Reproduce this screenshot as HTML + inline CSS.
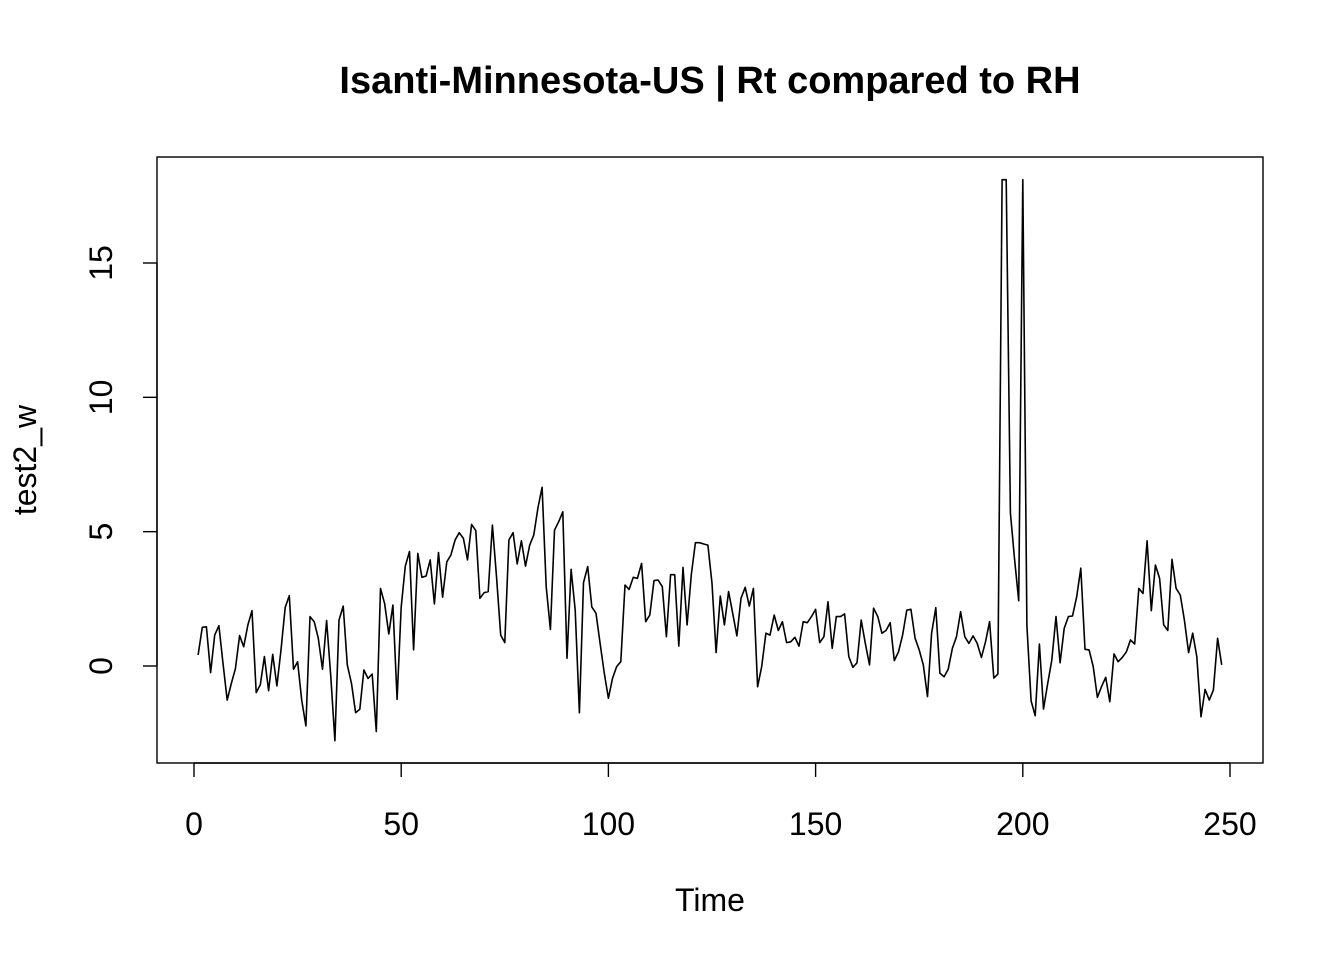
<!DOCTYPE html>
<html><head><meta charset="utf-8"><style>
html,body{margin:0;padding:0;background:#fff}
svg{display:block;font-family:"Liberation Sans",Arial,sans-serif}
</style></head><body>
<svg id="chart" width="1344" height="960" viewBox="0 0 1344 960">
<rect width="1344" height="960" fill="#fff"/>
<text x="710" y="93" text-anchor="middle" font-size="38" font-weight="bold">Isanti-Minnesota-US | Rt compared to RH</text>
<rect x="157" y="157" width="1106" height="606" fill="none" stroke="#000" stroke-width="1.4"/>
<text x="710" y="911" text-anchor="middle" font-size="32">Time</text>
<text transform="translate(36,460) rotate(-90)" text-anchor="middle" font-size="32">test2_w</text>
<g id="axes"></g>
<g id="series"></g>
</svg>
<script>
const values = [0.41,1.44,1.46,-0.25,1.15,1.5,0.1,-1.27,-0.65,-0.1,1.13,0.72,1.53,2.06,-0.99,-0.7,0.35,-0.92,0.43,-0.74,0.6,2.18,2.62,-0.12,0.16,-1.27,-2.23,1.84,1.65,1.03,-0.12,1.69,-0.4,-2.78,1.71,2.23,0.04,-0.65,-1.74,-1.61,-0.15,-0.46,-0.3,-2.44,2.89,2.33,1.19,2.27,-1.24,2.2,3.72,4.26,0.6,4.19,3.3,3.35,3.95,2.31,4.22,2.56,3.88,4.13,4.69,4.96,4.75,3.95,5.27,5.04,2.52,2.73,2.77,5.25,3.33,1.15,0.87,4.69,4.96,3.8,4.66,3.72,4.5,4.88,5.9,6.65,2.95,1.36,5.06,5.37,5.74,0.29,3.6,2.08,-1.74,3.1,3.7,2.2,1.96,0.84,-0.27,-1.2,-0.46,-0.02,0.16,3.01,2.85,3.3,3.26,3.82,1.65,1.9,3.18,3.2,2.95,1.09,3.4,3.4,0.74,3.67,1.53,3.4,4.59,4.59,4.54,4.5,3.08,0.5,2.6,1.53,2.77,1.96,1.12,2.52,2.93,2.23,2.89,-0.77,-0.02,1.22,1.15,1.9,1.32,1.65,0.87,0.9,1.07,0.74,1.65,1.61,1.84,2.11,0.87,1.09,2.39,0.66,1.84,1.84,1.94,0.35,-0.05,0.12,1.71,0.84,0.04,2.15,1.84,1.22,1.32,1.61,0.2,0.53,1.15,2.08,2.11,1.03,0.6,0.04,-1.14,1.22,2.17,-0.27,-0.4,-0.12,0.66,1.09,2.02,1.09,0.84,1.12,0.84,0.32,0.9,1.65,-0.45,-0.3,18.1,18.1,5.7,4.0,2.43,18.1,1.5,-1.3,-1.85,0.82,-1.6,-0.65,0.22,1.84,0.12,1.4,1.84,1.86,2.58,3.64,0.62,0.6,-0.02,-1.17,-0.77,-0.42,-1.33,0.45,0.16,0.32,0.53,0.97,0.82,2.89,2.7,4.66,2.06,3.76,3.26,1.53,1.32,3.97,2.89,2.64,1.71,0.5,1.22,0.35,-1.89,-0.87,-1.27,-0.89,1.03,0.04];
const xTicks = [0,50,100,150,200,250];
const yTicks = [0,5,10,15];

const NS = "http://www.w3.org/2000/svg";
function xs(t){ return 194 + (t/250)*(1230-194); }
function ys(v){ return 666 - v*(666-263)/15; }
const axes = document.getElementById('axes');
const series = document.getElementById('series');
function mk(tag, attrs, parent){ const e=document.createElementNS(NS,tag); for(const k in attrs) e.setAttribute(k,attrs[k]); parent.appendChild(e); return e; }

const xAxis = mk('line',{x1:xs(xTicks[0]),x2:xs(xTicks[xTicks.length-1]),y1:763,y2:763,stroke:'#000','stroke-width':1.4},axes);


xTicks.forEach(t=>{
  const l = mk('line',{x1:xs(t),x2:xs(t),y1:763,y2:777,stroke:'#000','stroke-width':1.4},axes);
  
  
  const tx = mk('text',{x:xs(t),y:835,'text-anchor':'middle','font-size':32},axes);
  tx.textContent = t;
  
  
});
const yAxis = mk('line',{x1:157,x2:157,y1:ys(yTicks[0]),y2:ys(yTicks[yTicks.length-1]),stroke:'#000','stroke-width':1.4},axes);


yTicks.forEach(v=>{
  const l = mk('line',{x1:143,x2:157,y1:ys(v),y2:ys(v),stroke:'#000','stroke-width':1.4},axes);
  
  
  const tx = mk('text',{transform:`translate(112,${ys(v)}) rotate(-90)`,'text-anchor':'middle','font-size':32},axes);
  tx.textContent = v;
  
  
});
const pts = values.map((v,i)=>xs(i+1).toFixed(1)+','+ys(v).toFixed(1)).join(' ');
const line = mk('polyline',{points:pts,fill:'none',stroke:'#000','stroke-width':1.6,'stroke-linejoin':'round'},series);


</script>
</body></html>
